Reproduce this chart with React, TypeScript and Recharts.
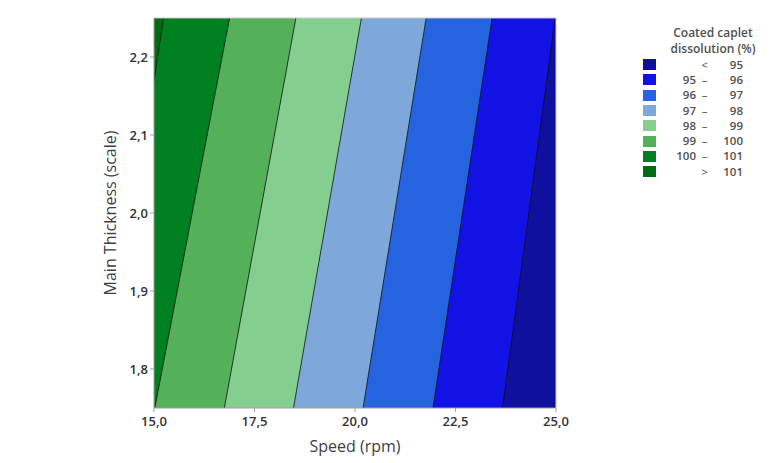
import {
  ComposedChart, Area, XAxis, YAxis, CartesianGrid, ReferenceLine, Label,
} from 'recharts'

// thickness rows (bottom and top edge of the plot)
const thickness = [1.75, 2.25]

// speed where each contour line sits at those thickness values
const b95  = [23.67, 24.98]
const b96  = [21.94, 23.41]
const b97  = [20.2, 21.77]
const b98  = [18.47, 20.16]
const b99  = [16.75, 18.53]
const b100 = [15.02, 16.88]
const b101 = [13.74, 15.24]

const speedTicks = [15, 17.5, 20, 22.5, 25]
const thickTicks = [1.8, 1.9, 2.0, 2.1, 2.2]

const bandLabels = [
  ['', '<', '95'],
  ['95', '–', '96'],
  ['96', '–', '97'],
  ['97', '–', '98'],
  ['98', '–', '99'],
  ['99', '–', '100'],
  ['100', '–', '101'],
  ['', '>', '101'],
]
const bandColors = [
  '#10109e', '#1212e4', '#2563df', '#7fa8da',
  '#84cf90', '#55b05a', '#008020', '#006c14',
]

const data = thickness.map((t, i) => ({
  t,
  b95: b95[i], b96: b96[i], b97: b97[i], b98: b98[i],
  b99: b99[i], b100: b100[i], b101: b101[i],
}))

// drawn back to front: each band fills from the left edge up to its line
const layers = [
  { key: 'b95',  color: bandColors[1] },
  { key: 'b96',  color: bandColors[2] },
  { key: 'b97',  color: bandColors[3] },
  { key: 'b98',  color: bandColors[4] },
  { key: 'b99',  color: bandColors[5] },
  { key: 'b100', color: bandColors[6] },
  { key: 'b101', color: bandColors[7] },
]

const FONT = '"Open Sans", "Noto Sans", sans-serif'
const fmt = (v: number) => v.toFixed(1).replace('.', ',')

function ContourLegend() {
  return (
    <div style={{
      position: 'absolute', left: 633, top: 17, width: 130,
      fontFamily: FONT, color: '#505050', fontSize: 11.5, fontWeight: 600,
    }}>
      <div style={{ textAlign: 'center', fontSize: 12, lineHeight: '15.5px', marginBottom: 1, paddingLeft: 14 }}>
        Coated caplet<br />dissolution (%)
      </div>
      {bandLabels.map(([lo, sep, hi], i) => (
        <div key={i} style={{ display: 'flex', alignItems: 'center', height: 15.3, lineHeight: '14px' }}>
          <span style={{ width: 13, height: 11, background: bandColors[i], display: 'inline-block', marginLeft: 2 }} />
          <span style={{ width: 40, textAlign: 'right' }}>{lo}</span>
          <span style={{ width: 17, textAlign: 'center', fontWeight: 400 }}>{sep}</span>
          <span style={{ width: 30, textAlign: 'right' }}>{hi}</span>
        </div>
      ))}
    </div>
  )
}

export default function App() {
  return (
    <div style={{ position: 'relative', width: 764, height: 455 }}>
      <ComposedChart
        width={764}
        height={455}
        data={data}
        layout="vertical"
        margin={{ top: 10, right: 216, left: 82, bottom: 5 }}
      >
        <CartesianGrid horizontal={false} vertical={false} fill={bandColors[0]} />
        <XAxis
          type="number"
          domain={[15, 25]}
          ticks={speedTicks}
          allowDataOverflow
          tickFormatter={fmt}
          tick={{ fontSize: 13, fill: '#333', fontFamily: FONT, fontWeight: 600 }}
          tickSize={4}
          tickMargin={5}
          stroke="#a0a0a0"
          height={50}
        >
          <Label value="Speed (rpm)" position="insideBottom" offset={6}
            style={{ fontSize: 16, fill: '#404040', fontFamily: FONT }} />
        </XAxis>
        <YAxis
          type="number"
          dataKey="t"
          domain={[1.75, 2.25]}
          ticks={thickTicks}
          allowDataOverflow
          reversed
          tickFormatter={fmt}
          tick={{ fontSize: 13, fill: '#333', fontFamily: FONT, fontWeight: 600 }}
          tickSize={4}
          stroke="#a0a0a0"
          width={64}
        >
          <Label value="Main Thickness (scale)" angle={-90} position="insideLeft" offset={20}
            style={{ fontSize: 16, fill: '#404040', fontFamily: FONT, textAnchor: 'middle' }} />
        </YAxis>
        {layers.map((l) => (
          <Area
            key={l.key}
            type="linear"
            dataKey={l.key}
            baseValue={15}
            fill={l.color}
            fillOpacity={1}
            stroke="#111"
            strokeWidth={0.8}
            isAnimationActive={false}
          />
        ))}
        <ReferenceLine y={2.25} stroke="#c8c8c8" ifOverflow="visible" />
        <ReferenceLine x={25} stroke="#c8c8c8" ifOverflow="visible" />
      </ComposedChart>
      <ContourLegend />
    </div>
  )
}
